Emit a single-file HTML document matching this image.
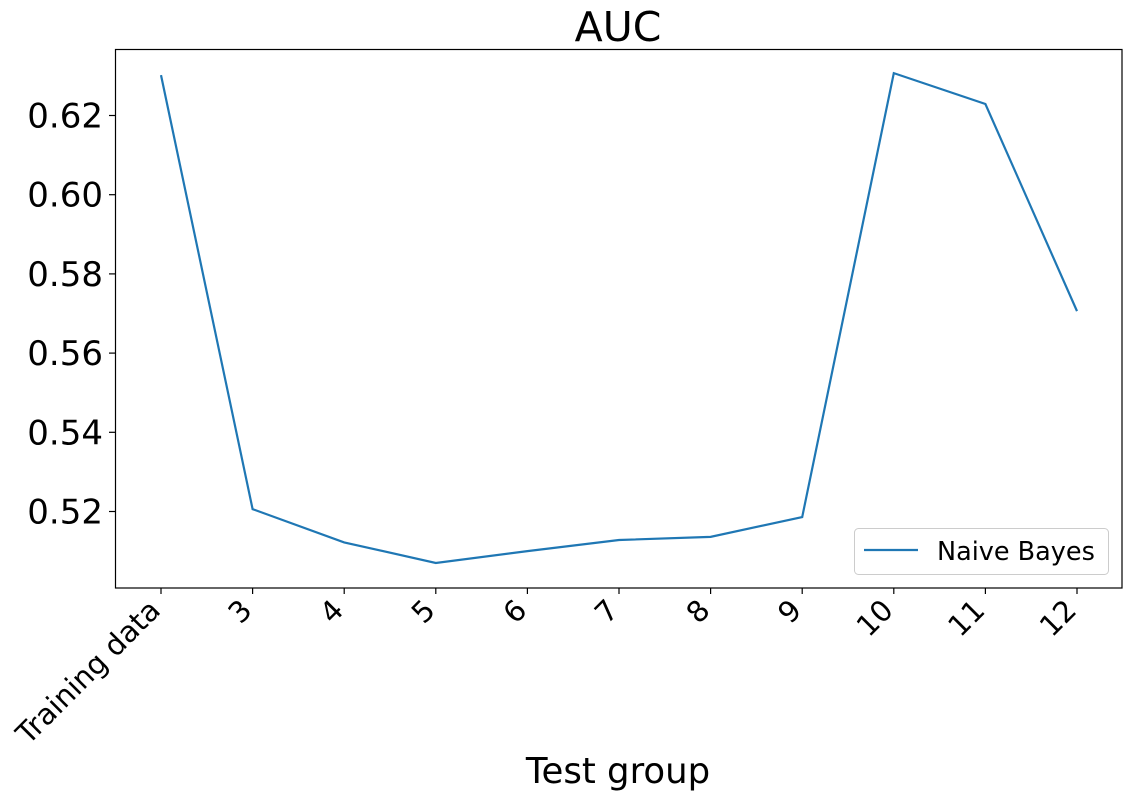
<!DOCTYPE html>
<html><head><meta charset="utf-8"><style>
body{margin:0;background:#fff;}
svg text{font-family:"DejaVu Sans","Liberation Sans",sans-serif;fill:#000;}
</style></head><body>
<svg id="chart" width="1132" height="798">
<text x="618" y="41" font-size="41" text-anchor="middle">AUC</text>
<g id="plot"></g>
<rect x="115.5" y="49.5" width="1006.5" height="538.5" fill="none" stroke="#000" stroke-width="1.2"/>
<text x="618" y="783" font-size="35.5" text-anchor="middle">Test group</text>
<g>
<rect x="854.5" y="528.5" width="254" height="46" rx="4" fill="#fff" stroke="#ccc"/>
<line x1="864" y1="550" x2="918" y2="550" stroke="#1f77b4" stroke-width="2.2"/>
<text x="937" y="560" font-size="25.5">Naive Bayes</text>
</g>
</svg>
<script>
const categories=["Training data","3","4","5","6","7","8","9","10","11","12"];
const aucValues=[0.6302,0.5206,0.5122,0.5070,0.5100,0.5128,0.5136,0.5186,0.6307,0.6229,0.5706];
const yTicks=[0.52,0.54,0.56,0.58,0.60,0.62];
const yTickLabels=["0.52","0.54","0.56","0.58","0.60","0.62"];
const NS="http://www.w3.org/2000/svg";
const g=document.getElementById('plot');
function x(i){return 161+i*(1077-161)/(categories.length-1);}
function y(v){return 511.5-(v-0.52)*3960;}
function mk(t,a){const e=document.createElementNS(NS,t);for(const k in a)e.setAttribute(k,a[k]);g.appendChild(e);return e;}
yTicks.forEach((v,i)=>{
 const t=mk('line',{x1:109,x2:115,y1:y(v),y2:y(v),stroke:'#000','stroke-width':1.2});
 
 
 const l=mk('text',{x:103,y:y(v)+12,'font-size':34,'text-anchor':'end'});
 l.textContent=yTickLabels[i];
 
 
});
categories.forEach((c,i)=>{
 const t=mk('line',{x1:x(i),x2:x(i),y1:588,y2:594,stroke:'#000','stroke-width':1.2});
 
 
 const l=mk('text',{x:0,y:0,'font-size':29,'text-anchor':'end',transform:`translate(${x(i)+1},${612}) rotate(-45)`});
 l.textContent=c;
 
 
});
const p=mk('polyline',{points:aucValues.map((v,i)=>x(i)+','+y(v)).join(' '),fill:'none',stroke:'#1f77b4','stroke-width':2.2});


</script>
</body></html>
